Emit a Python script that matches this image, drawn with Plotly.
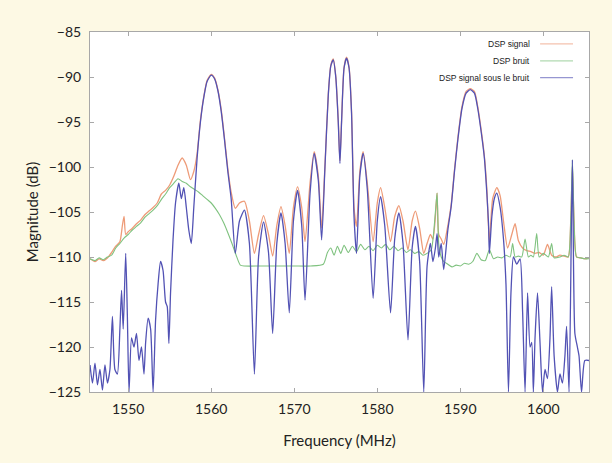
import plotly.graph_objects as go

# ---------------- data ----------------
signal_x = [1545.4, 1546.0, 1546.5, 1547.0, 1547.5, 1548.0, 1548.5, 1549.0, 1549.3, 1549.5,
            1549.7, 1550.0, 1550.5, 1551.0, 1551.5, 1552.0, 1552.5, 1553.0, 1553.5, 1554.0,
            1554.5, 1555.0, 1555.5, 1556.0, 1556.5, 1557.0, 1557.5, 1557.9, 1558.3, 1558.7,
            1559.1, 1559.5, 1560.0, 1560.4, 1560.8, 1561.2, 1561.6, 1562.0, 1562.4, 1562.9,
            1563.4, 1564.0, 1564.6, 1565.2, 1565.7, 1566.3, 1566.9, 1567.4, 1567.9, 1568.4,
            1568.9, 1569.4, 1569.9, 1570.4, 1570.9, 1571.3, 1571.9, 1572.4, 1572.9, 1573.3,
            1573.7, 1574.1, 1574.4, 1574.7, 1575.0, 1575.3, 1575.5, 1575.7, 1576.0, 1576.3,
            1576.6, 1576.9, 1577.2, 1577.5, 1577.9, 1578.3, 1578.8, 1579.5, 1580.0, 1580.4,
            1580.9, 1581.6, 1582.1, 1582.6, 1583.1, 1583.7, 1584.2, 1584.6, 1585.1, 1585.6,
            1586.0, 1586.4, 1586.7, 1587.0, 1587.2, 1587.4, 1587.7, 1588.0, 1588.5, 1588.9,
            1589.3, 1589.7, 1590.2, 1590.7, 1591.2, 1591.7, 1592.1, 1592.5, 1592.9, 1593.2,
            1593.5, 1593.9, 1594.4, 1594.8, 1595.2, 1595.7, 1596.2, 1596.6, 1597.0, 1597.5,
            1598.0, 1598.5, 1599.0, 1599.5, 1600.0, 1600.5, 1601.0, 1601.5, 1602.0, 1602.5,
            1603.0, 1603.3, 1603.5, 1603.7, 1604.0, 1604.5, 1605.0, 1605.5]
signal_y = [-110.2, -110.5, -110.2, -110.4, -110.1, -109.5, -108.8, -108.3, -106.5, -105.5,
            -107.5, -107.2, -106.8, -106.3, -105.9, -105.3, -104.9, -104.5, -104.0, -103.0,
            -102.6, -102.0, -101.0, -99.8, -99.0, -99.8, -101.4, -100.5, -98.5, -94.8,
            -92.2, -90.4, -89.7, -90.1, -91.4, -93.6, -96.8, -100.2, -102.8, -104.6,
            -104.0, -103.8, -106.0, -109.6, -107.5, -105.4, -107.5, -109.9, -106.5, -104.4,
            -106.5, -109.6, -104.5, -102.2, -104.5, -108.3, -101.8, -98.3, -101.0, -106.8,
            -99.8, -91.9, -88.7, -88.0, -89.9, -94.8, -99.3, -94.8, -88.9, -87.8,
            -88.9, -93.8, -104.5, -106.6, -100.5, -98.3, -101.8, -108.3, -104.0, -102.3,
            -104.5, -108.3, -105.5, -104.3, -106.0, -109.2, -106.0, -104.9, -106.8, -109.6,
            -108.5, -107.5, -108.0, -105.5, -102.9, -107.5, -108.0, -108.6, -106.5, -104.2,
            -100.3, -96.8, -93.3, -91.6, -91.3, -91.6, -93.3, -95.8, -98.8, -102.5,
            -108.3, -103.5, -102.3, -103.2, -106.0, -109.0, -107.5, -106.3, -108.2, -109.0,
            -109.3, -109.4, -109.6, -109.5, -109.8, -108.6, -109.8, -110.0, -109.8, -109.9,
            -110.0, -106.0, -100.0, -106.0, -110.0, -110.1, -110.2, -110.1]

noise_x = [1545.4, 1546.0, 1546.5, 1547.0, 1547.5, 1548.0, 1548.5, 1549.0, 1549.5, 1550.0,
           1550.5, 1551.0, 1551.5, 1552.0, 1552.5, 1553.0, 1553.5, 1554.0, 1554.5, 1555.0,
           1555.5, 1556.0, 1556.5, 1557.0, 1557.5, 1558.0, 1558.5, 1559.0, 1559.5, 1560.0,
           1560.5, 1561.0, 1561.5, 1562.0, 1562.5, 1563.0, 1563.5, 1564.0, 1566.0, 1568.0,
           1570.0, 1572.0, 1573.5, 1574.0, 1574.4, 1574.8, 1575.2, 1575.6, 1576.0, 1576.5,
           1577.0, 1577.5, 1578.0, 1578.5, 1579.0, 1579.5, 1580.0, 1580.5, 1581.0, 1581.5,
           1582.0, 1582.5, 1583.0, 1583.5, 1584.0, 1584.5, 1585.0, 1585.5, 1586.0, 1586.5,
           1587.0, 1587.2, 1587.4, 1587.7, 1588.0, 1588.5, 1589.0, 1589.5, 1590.0, 1590.5,
           1591.0, 1591.5, 1592.0, 1592.5, 1593.0, 1593.5, 1594.0, 1594.5, 1595.0, 1595.5,
           1596.0, 1596.3, 1596.6, 1597.0, 1597.4, 1597.8, 1598.2, 1598.5, 1598.8, 1599.2,
           1599.5, 1600.0, 1600.6, 1601.0, 1601.3, 1602.0, 1602.5, 1603.0, 1603.3, 1603.5,
           1603.7, 1604.0, 1604.5, 1605.0, 1605.5]
noise_y = [-110.2, -110.4, -110.1, -110.3, -110.0, -109.8, -109.0, -108.5, -107.9, -107.5,
           -107.0, -106.6, -106.2, -105.6, -105.2, -104.8, -104.3, -103.6, -103.0, -102.3,
           -101.8, -101.3, -101.6, -101.8, -102.2, -102.5, -102.8, -103.2, -103.6, -104.0,
           -104.6, -105.3, -106.2, -107.3, -108.5, -109.8, -110.9, -111.0, -111.0, -111.0,
           -111.0, -111.0, -110.8, -109.5, -109.0, -109.8, -108.8, -109.6, -108.7, -109.5,
           -108.8, -109.4, -108.6, -109.2, -108.8, -109.3, -108.7, -109.0, -108.6, -109.2,
           -108.8, -109.3, -109.0, -109.5, -109.2, -109.6, -109.4, -109.8, -109.6, -109.2,
           -105.0, -102.9, -108.5, -110.0, -110.5, -110.8, -111.1, -110.9, -111.0, -110.7,
           -110.8, -110.5, -109.6, -110.3, -110.4, -109.2, -110.2, -110.0, -110.1, -109.8,
           -110.0, -108.5, -110.0, -109.9, -110.0, -108.0, -110.0, -109.8, -110.0, -107.4,
           -110.0, -109.6, -110.0, -108.5, -110.1, -110.0, -109.8, -110.0, -106.0, -99.2,
           -106.0, -110.0, -110.1, -110.2, -110.2]

under_x = [1545.4, 1545.7, 1546.0, 1546.3, 1546.6, 1546.9, 1547.2, 1547.5, 1547.8, 1548.1,
           1548.4, 1548.7, 1549.0, 1549.2, 1549.4, 1549.7, 1549.9, 1550.1, 1550.4, 1550.7,
           1551.0, 1551.3, 1551.6, 1551.9, 1552.1, 1552.4, 1552.7, 1553.0, 1553.3, 1553.6,
           1553.9, 1554.2, 1554.5, 1554.7, 1554.9, 1555.1, 1555.4, 1555.7, 1556.1, 1556.4,
           1556.7, 1557.0, 1557.3, 1557.6, 1557.9, 1558.3, 1558.7, 1559.1, 1559.5, 1560.0,
           1560.4, 1560.8, 1561.2, 1561.6, 1562.0, 1562.4, 1562.9, 1563.4, 1564.0, 1564.6,
           1565.2, 1565.7, 1566.3, 1566.9, 1567.4, 1567.9, 1568.4, 1568.9, 1569.4, 1569.9,
           1570.4, 1570.9, 1571.3, 1571.9, 1572.4, 1572.9, 1573.3, 1573.7, 1574.1, 1574.4,
           1574.7, 1575.0, 1575.3, 1575.5, 1575.7, 1576.0, 1576.3, 1576.6, 1576.9, 1577.2,
           1577.5, 1577.9, 1578.3, 1578.8, 1579.5, 1580.0, 1580.4, 1580.9, 1581.6, 1582.1,
           1582.6, 1583.1, 1583.7, 1584.2, 1584.6, 1585.1, 1585.6, 1586.0, 1586.4, 1586.7,
           1587.0, 1587.2, 1587.4, 1587.7, 1588.0, 1588.5, 1588.9, 1589.3, 1589.7, 1590.2,
           1590.7, 1591.2, 1591.7, 1592.1, 1592.5, 1592.9, 1593.2, 1593.4, 1593.5, 1593.8,
           1594.1, 1594.4, 1594.8, 1595.2, 1595.5, 1595.8, 1596.1, 1596.4, 1596.8, 1597.2,
           1597.5, 1597.8, 1598.1, 1598.4, 1598.6, 1598.8, 1599.0, 1599.3, 1599.6, 1599.9,
           1600.2, 1600.5, 1600.8, 1601.0, 1601.3, 1601.7, 1602.0, 1602.3, 1602.6, 1602.8,
           1603.1, 1603.5, 1603.8, 1604.1, 1604.3, 1604.6, 1605.0, 1605.5]
under_y = [-122.0, -124.0, -121.8, -124.2, -122.5, -124.8, -122.0, -124.0, -122.5, -116.6,
           -122.5, -123.0, -118.0, -113.7, -118.0, -109.6, -116.5, -125.0, -119.0, -120.0,
           -118.5, -121.5, -120.0, -123.0, -119.5, -116.8, -118.0, -125.0, -117.0, -113.0,
           -110.5, -111.5, -115.0, -115.5, -119.6, -114.0, -108.1, -104.0, -101.8, -103.5,
           -102.3, -104.5, -107.0, -108.5, -104.5, -99.0, -95.0, -92.3, -90.5, -89.8,
           -90.2, -91.5, -93.8, -97.0, -100.5, -103.5, -109.6, -106.0, -104.8, -108.5,
           -123.0, -110.0, -106.1, -109.5, -118.5, -108.5, -105.1, -108.5, -116.2, -106.0,
           -102.6, -106.5, -114.8, -103.0, -98.5, -101.5, -108.1, -100.0, -92.0, -88.8,
           -88.1, -90.0, -95.0, -99.6, -95.0, -89.0, -87.9, -89.0, -94.0, -105.5,
           -109.6, -101.0, -98.5, -102.5, -114.6, -106.0, -103.3, -106.5, -116.2, -108.0,
           -105.1, -108.5, -119.2, -109.0, -106.6, -110.5, -125.0, -111.0, -108.5, -110.5,
           -109.0, -107.4, -110.0, -108.5, -111.4, -107.0, -104.4, -100.5, -97.0, -93.5,
           -91.8, -91.4, -91.8, -93.5, -96.0, -99.0, -103.0, -106.3, -109.6, -105.5,
           -103.5, -102.9, -104.5, -108.0, -113.0, -125.0, -114.0, -110.0, -110.8, -110.2,
           -116.0, -125.0, -114.0, -120.0, -119.5, -125.0, -119.0, -114.0, -119.5, -125.0,
           -122.5, -123.5, -119.0, -113.3, -121.0, -125.0, -123.0, -124.0, -121.0, -117.7,
           -125.0, -99.2, -118.5, -120.0, -121.0, -125.0, -121.5, -121.5]

series_names = ["DSP signal", "DSP bruit", "DSP signal sous le bruit"]
x_tick_vals = [1550, 1560, 1570, 1580, 1590, 1600]
x_tick_text = ["1550", "1560", "1570", "1580", "1590", "1600"]
y_tick_vals = [-85, -90, -95, -100, -105, -110, -115, -120, -125]
y_tick_text = ["\u221285", "\u221290", "\u221295", "\u2212100", "\u2212105",
               "\u2212110", "\u2212115", "\u2212120", "\u2212125"]

# ---------------- styles ----------------
colors = ["#ee9b78", "#7fc27f", "#5252b4"]
widths = [1.3, 1.1, 1.3]
BG = "#fdf9e4"
FONT = "Lato, 'Open Sans', sans-serif"

fig = go.Figure()
for name, xs, ys, c, w in zip(series_names,
                              [signal_x, noise_x, under_x],
                              [signal_y, noise_y, under_y],
                              colors, widths):
    fig.add_trace(go.Scatter(x=xs, y=ys, mode="lines", name=name,
                             line=dict(color=c, width=w, shape="spline", smoothing=0.6),
                             showlegend=False))

axis_common = dict(showline=True, linecolor="#a8a8a8", linewidth=1, mirror="allticks",
                   ticks="inside", ticklen=4, tickcolor="#a8a8a8", showgrid=False,
                   zeroline=False, tickfont=dict(family=FONT, size=14, color="#222"))

fig.update_xaxes(range=[1545.4, 1605.5], tickvals=x_tick_vals, ticktext=x_tick_text,
                 title=dict(text="Frequency (MHz)", font=dict(family=FONT, size=15, color="#222"),
                            standoff=19),
                 ticklabelstandoff=4, **axis_common)
fig.update_yaxes(range=[-125, -85], tickvals=y_tick_vals, ticktext=y_tick_text,
                 title=dict(text="Magnitude (dB)", font=dict(family=FONT, size=15, color="#222"),
                            standoff=6),
                 ticklabelstandoff=5, **axis_common)

# custom legend (text right-aligned, sample line on the right)
leg_y = [0.967, 0.920, 0.873]
for name, c, yy in zip(series_names, colors, leg_y):
    fig.add_annotation(xref="paper", yref="paper", x=0.886, y=yy, text=name,
                       showarrow=False, xanchor="right", yanchor="middle",
                       font=dict(family="Liberation Sans, Arial, sans-serif", size=8.5, color="#222"))
    fig.add_shape(type="line", xref="paper", yref="paper", x0=0.902, x1=0.968, y0=yy, y1=yy,
                  line=dict(color=c, width=1.2), opacity=0.6)

fig.update_layout(width=612, height=463, paper_bgcolor=BG, plot_bgcolor="white",
                  margin=dict(l=90, r=23, t=32, b=71), showlegend=False)

fig.write_html("out.html")
